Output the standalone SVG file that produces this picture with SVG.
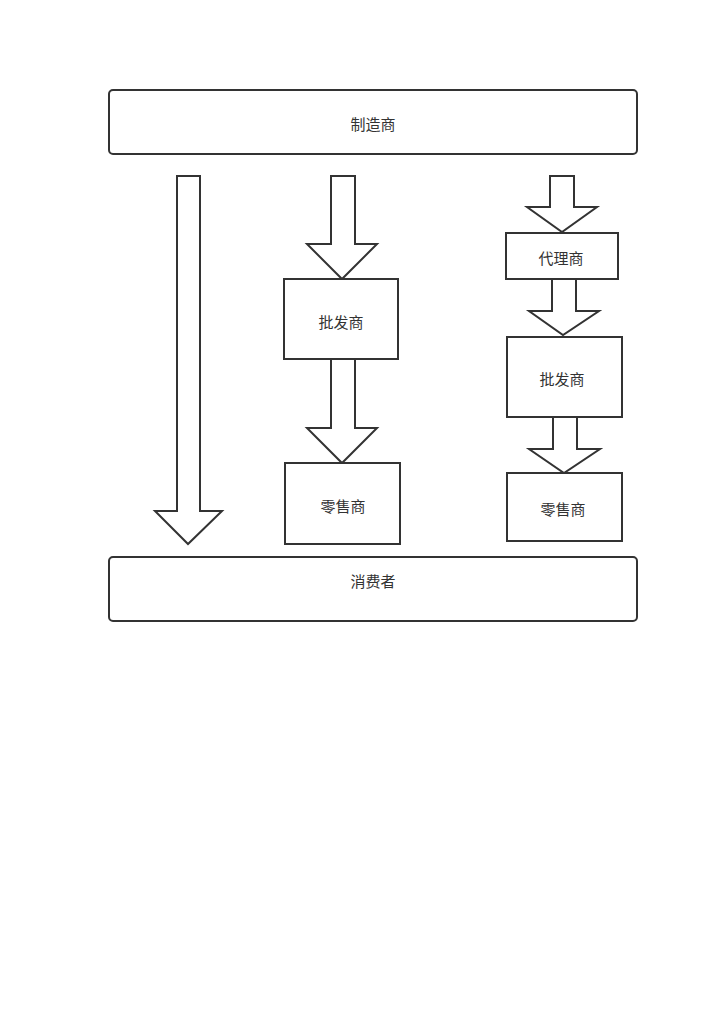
<svg xmlns="http://www.w3.org/2000/svg" width="724" height="1024" viewBox="0 0 724 1024">
<style>
.box{fill:#fff;stroke:#333;stroke-width:2}
.arr{fill:#fff;stroke:#333;stroke-width:2;stroke-linejoin:miter}
.t{font-family:"Noto Sans CJK SC",sans-serif;font-size:15px;fill:#333;text-anchor:middle;dominant-baseline:central}
</style>
<rect width="724" height="1024" fill="#fff"/>
<g id="connectors">
<polygon class="arr" points="177,176 200,176 200,511 222,511 188,544 155,511 177,511"/>
<polygon class="arr" points="331,176 355,176 355,244 377,244 342,279 307,244 331,244"/>
<polygon class="arr" points="331,359 355,359 355,428 377,428 342,463 307,428 331,428"/>
<polygon class="arr" points="550,176 574,176 574,207 597,207 562,232 527,207 550,207"/>
<polygon class="arr" points="552,279 576,279 576,311 599,311 563,335 529,311 552,311"/>
<polygon class="arr" points="553,417 577,417 577,449 600,449 564,473 529,449 553,449"/>
</g>
<g id="manufacturer"><rect class="box" x="109" y="90" width="528" height="64" rx="4"/><text class="t" x="373" y="123">制造商</text></g>
<g id="wholesaler1"><rect class="box" x="284" y="279" width="114" height="80"/><text class="t" x="341" y="321">批发商</text></g>
<g id="retailer1"><rect class="box" x="285" y="463" width="115" height="81"/><text class="t" x="343" y="505">零售商</text></g>
<g id="agent"><rect class="box" x="506" y="233" width="112" height="46"/><text class="t" x="561" y="257">代理商</text></g>
<g id="wholesaler2"><rect class="box" x="507" y="337" width="115" height="80"/><text class="t" x="562" y="378">批发商</text></g>
<g id="retailer2"><rect class="box" x="507" y="473" width="115" height="68"/><text class="t" x="563" y="508">零售商</text></g>
<g id="consumer"><rect class="box" x="109" y="557" width="528" height="64" rx="4"/><text class="t" x="373" y="580">消费者</text></g>
</svg>
